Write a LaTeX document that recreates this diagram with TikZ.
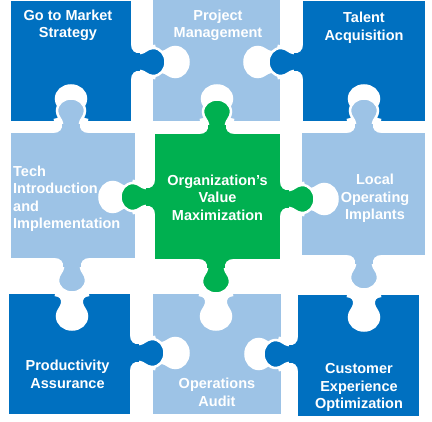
\documentclass[tikz,border=0pt]{standalone}
\usepackage{fontspec}
\setmainfont{Liberation Sans}
\usepackage{xcolor}
\usepackage{tikz}

\definecolor{pzdark}{HTML}{0070C0}
\definecolor{pzlight}{HTML}{9DC3E6}
\definecolor{pzgreen}{HTML}{00B050}

% knob of a piece: colour, x, y, angle (0 = down)
\newcommand{\pztab}[4]{%
	\begin{scope}[shift={(#2,#3)},rotate=#4]
		\fill[#1] (-17,0) .. controls (-11.5,0) and (-8,4) .. (-8.8,9)
			.. controls (-9.6,14.4) and (-14,16.5) .. (-14,22)
			.. controls (-14,29.4) and (-7.6,34.5) .. (0,34.5)
			.. controls (7.6,34.5) and (14,29.4) .. (14,22)
			.. controls (14,16.5) and (9.6,14.4) .. (8.8,9)
			.. controls (8,4) and (11.5,0) .. (17,0) -- cycle;
		\draw[white,line width=2.5pt] (-8.8,9)
			.. controls (-9.6,14.4) and (-14,16.5) .. (-14,22)
			.. controls (-14,29.4) and (-7.6,34.5) .. (0,34.5)
			.. controls (7.6,34.5) and (14,29.4) .. (14,22)
			.. controls (14,16.5) and (9.6,14.4) .. (8.8,9);
	\end{scope}}
% socket cut into the neighbour: x, y, angle
\newcommand{\pzhole}[3]{%
	\begin{scope}[shift={(#1,#2)},rotate=#3]
		\filldraw[white,line width=4.5pt] (-17,0) .. controls (-11.5,0) and (-8,4) .. (-8.8,9)
			.. controls (-9.6,14.4) and (-14,16.5) .. (-14,22)
			.. controls (-14,29.4) and (-7.6,34.5) .. (0,34.5)
			.. controls (7.6,34.5) and (14,29.4) .. (14,22)
			.. controls (14,16.5) and (9.6,14.4) .. (8.8,9)
			.. controls (8,4) and (11.5,0) .. (17,0);
	\end{scope}}

\begin{document}
\begin{tikzpicture}[x=1pt,y=-1pt,
	lbl/.style={text=white,font=\bfseries\fontsize{14.5}{17.5}\selectfont,align=center,inner sep=0pt}]
		\useasboundingbox (0,0) rectangle (432,422);
		% tiles
		\fill[pzdark] (11,1) rectangle (131,121);
		\fill[pzlight] (153,0) rectangle (280,121);
		\fill[pzdark] (303,1) rectangle (425,121);
		\fill[pzlight] (11,133) rectangle (135,258);
		\fill[pzgreen] (155,134) rectangle (280,259);
		\fill[pzlight] (302,133) rectangle (425,255);
		\fill[pzdark] (9,294) rectangle (130,414);
		\fill[pzlight] (153,294) rectangle (281,414);
		\fill[pzdark] (298,295) rectangle (419,416);
		% sockets
		\pzhole{153}{62}{90}
		\pzhole{280}{62}{-90}
		\pzhole{71}{121}{180}
		\pzhole{72}{294}{0}
		\pzhole{217}{121}{180}
		\pzhole{135}{197}{-90}
		\pzhole{302}{199}{90}
		\pzhole{216}{294}{0}
		\pzhole{364}{121}{180}
		\pzhole{364}{295}{0}
		\pzhole{153}{353}{90}
		\pzhole{281}{354}{-90}
		% knobs
		\pztab{pzdark}{131}{62}{90}
		\pztab{pzdark}{303}{62}{-90}
		\pztab{pzlight}{71}{133}{180}
		\pztab{pzlight}{72}{258}{0}
		\pztab{pzgreen}{217}{134}{180}
		\pztab{pzgreen}{155}{197}{-90}
		\pztab{pzgreen}{280}{199}{90}
		\pztab{pzgreen}{216}{259}{0}
		\pztab{pzlight}{364}{133}{180}
		\pztab{pzlight}{364}{255}{0}
		\pztab{pzdark}{130}{353}{90}
		\pztab{pzdark}{298}{354}{-90}
		% labels
		\node[lbl] (gtm) at (68,25.5) {Go to Market\\Strategy};
		\node[lbl] (pm) at (218,25.5) {Project\\Management};
		\node[lbl] (ta) at (364,28) {Talent\\Acquisition};
		\node[lbl,align=left,anchor=west] (tii) at (13,199) {Tech\\Introduction\\and\\Implementation};
		\node[lbl] (ovm) at (217.5,197.5) {Organization’s\\Value\\Maximization};
		\node[lbl] (loi) at (375,198.5) {Local\\Operating\\Implants};
		\node[lbl] (pa) at (67.5,374.5) {Productivity\\Assurance};
		\node[lbl] (oa) at (217,392.5) {Operations\\Audit};
		\node[lbl] (ceo) at (359,387.5) {Customer\\Experience\\Optimization};
	\end{tikzpicture}
\end{document}
